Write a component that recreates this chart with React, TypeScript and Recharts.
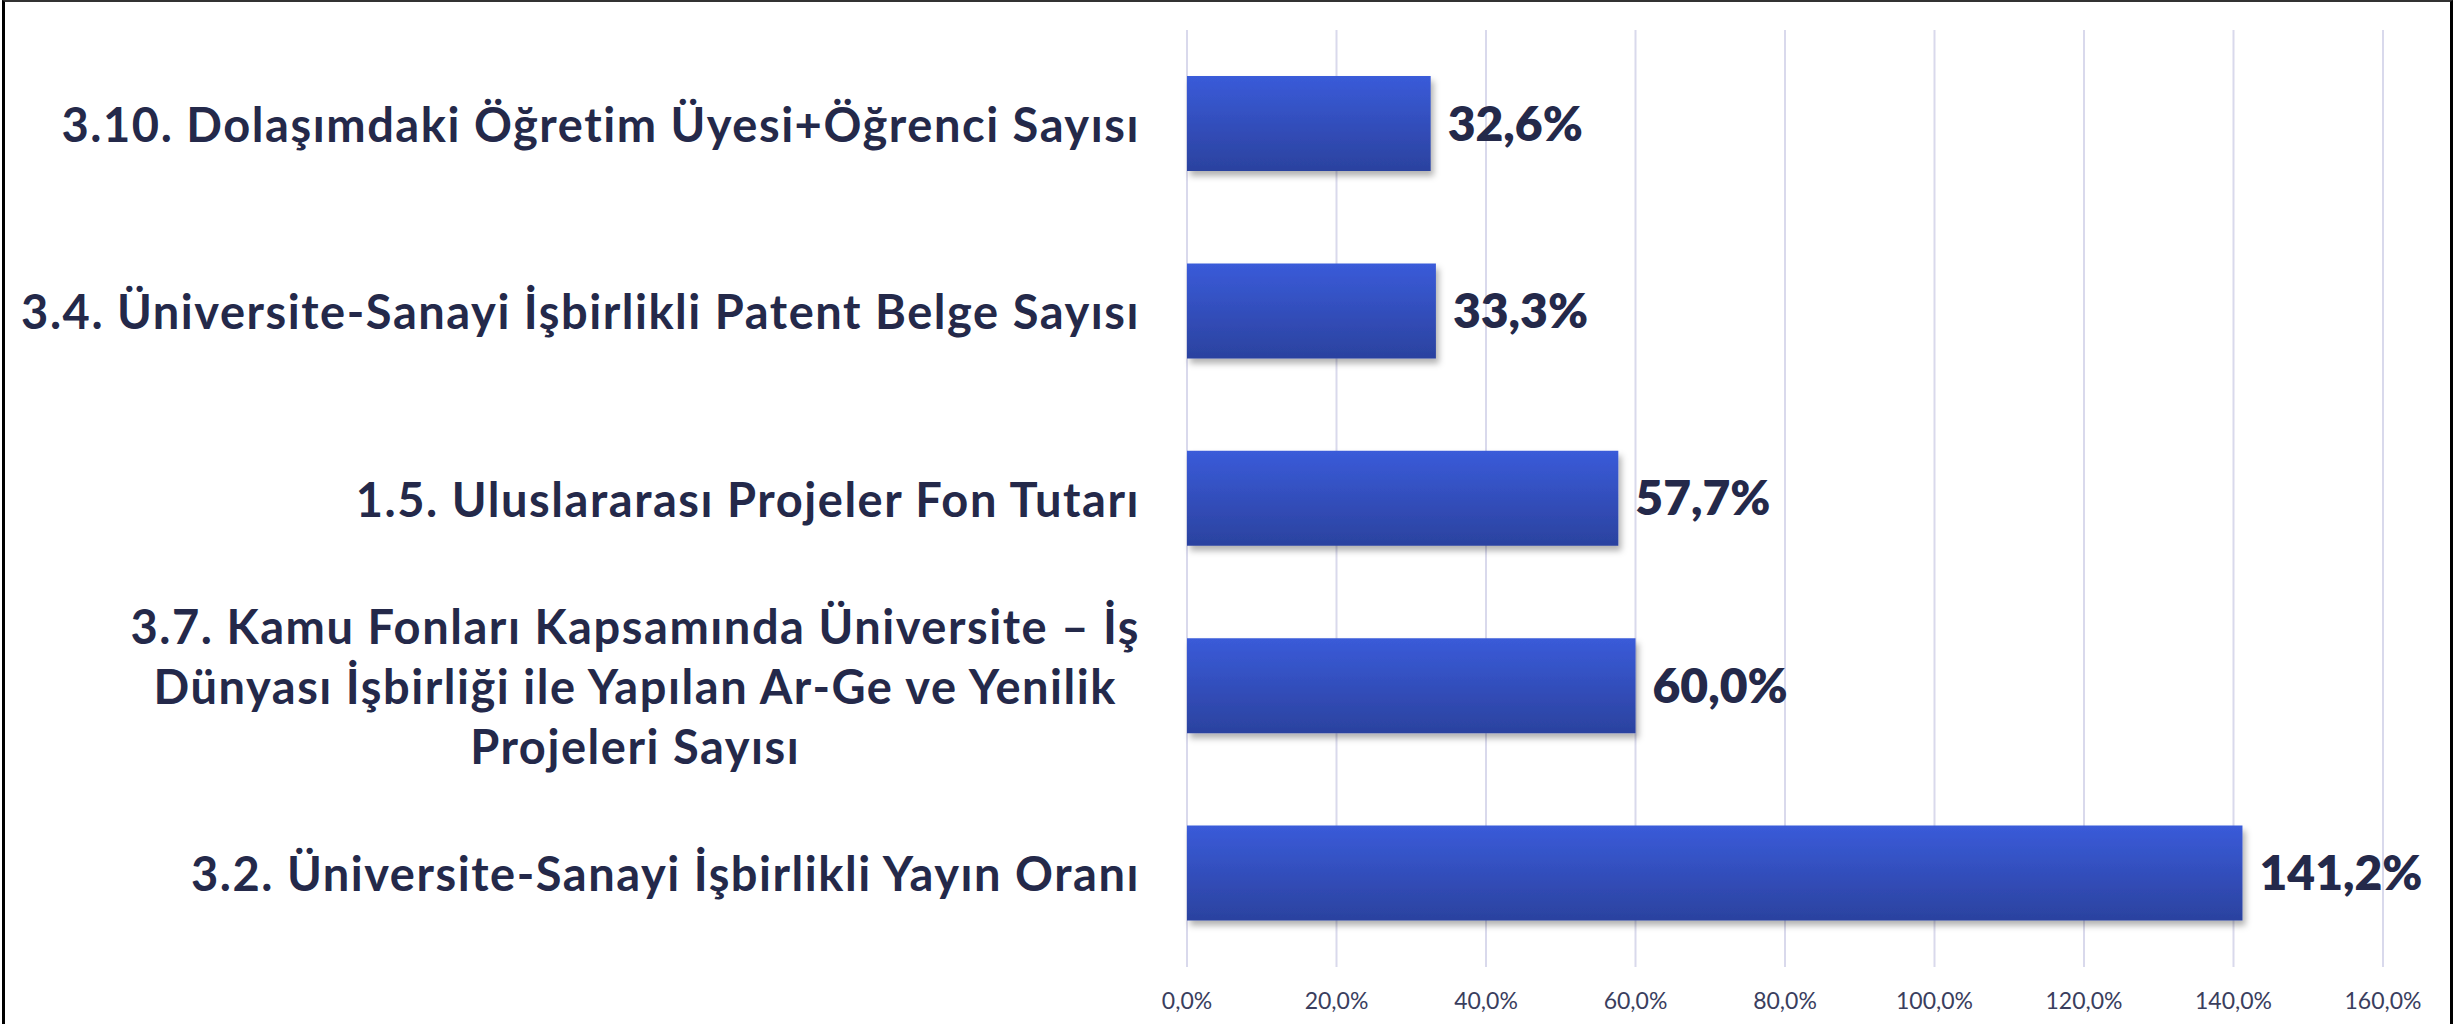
import { BarChart, Bar, XAxis, YAxis, CartesianGrid, LabelList } from "recharts";

const categories = [
    "3.10. Dolaşımdaki Öğretim Üyesi+Öğrenci Sayısı",
    "3.4. Üniversite-Sanayi İşbirlikli Patent Belge Sayısı",
    "1.5. Uluslararası Projeler Fon Tutarı",
    "3.7. Kamu Fonları Kapsamında Üniversite – İş\nDünyası İşbirliği ile Yapılan Ar-Ge ve Yenilik\nProjeleri Sayısı",
    "3.2. Üniversite-Sanayi İşbirlikli Yayın Oranı",
];
const values = [32.6, 33.3, 57.7, 60.0, 141.2];
const xTicks = [0, 20, 40, 60, 80, 100, 120, 140, 160];

const data = categories.map((name, i) => ({ name, value: values[i] }));

const LABEL_FONT = "Lato, 'Noto Sans', sans-serif";
const TEXT_COLOR = "#24294a";
const SPACING = 1.55;

const fmt = (v: number) => v.toFixed(1).replace(".", ",") + "%";

let ctx: CanvasRenderingContext2D | null = null;
const measure = (text: string, font: string) => {
    if (!ctx) ctx = document.createElement("canvas").getContext("2d");
    if (!ctx) return text.length * 24;
    ctx.font = font;
    return ctx.measureText(text).width + text.length * SPACING;
};

const CategoryTick = (props: any) => {
    const { x, y, payload } = props;
    const lines: string[] = String(payload.value).split("\n");
    const right = x;
    if (lines.length === 1) {
        return (
            <text x={right} y={y} textAnchor="end" dominantBaseline="central" letterSpacing={SPACING}
                fontFamily={LABEL_FONT} fontWeight={700} fontSize={47} fill={TEXT_COLOR}>
                {lines[0]}
            </text>
        );
    }
    const widest = Math.max(...lines.map((l) => measure(l, `700 47px ${LABEL_FONT}`)));
    const cx = right - widest / 2;
    const lh = 60;
    const top = y - ((lines.length - 1) * lh) / 2;
    return (
        <text textAnchor="middle" dominantBaseline="central" letterSpacing={SPACING}
            fontFamily={LABEL_FONT} fontWeight={700} fontSize={47} fill={TEXT_COLOR}>
            {lines.map((l, i) => (
                <tspan key={i} x={cx} y={top + i * lh}>{l}</tspan>
            ))}
        </text>
    );
};

const ValueTick = (props: any) => {
    const { x, y, payload } = props;
    return (
        <text x={x} y={y + 25} textAnchor="middle" dominantBaseline="central"
            fontFamily={LABEL_FONT} fontSize={23} fill="#3a3e5e">
            {fmt(payload.value)}
        </text>
    );
};

const App = () => {
    return (
        <div style={{ position: "absolute", left: 0, top: 0, width: 2458, height: 1024, background: "#fff", overflow: "hidden" }}>
            <div style={{
                position: "absolute", left: 2, top: 0, width: 2451, height: 1040,
                boxSizing: "border-box", borderLeft: "3px solid #000",
                borderTop: "2px solid #333", borderRight: "3px solid #000",
            }} />
            <BarChart
                width={2458}
                height={1024}
                data={data}
                layout="vertical"
                barSize={95}
                margin={{ top: 30, right: 75, left: 0, bottom: 17 }}
                style={{ position: "absolute", left: 0, top: 0 }}
            >
                <defs>
                    <linearGradient id="barFill" x1="0" y1="0" x2="0" y2="1">
                        <stop offset="0%" stopColor="#3a5bd9" />
                        <stop offset="100%" stopColor="#2b429f" />
                    </linearGradient>
                    <filter id="barShadow" x="-5%" y="-20%" width="115%" height="150%">
                        <feDropShadow dx="3" dy="5" stdDeviation="3" floodColor="#000" floodOpacity="0.3" />
                    </filter>
                </defs>
                <CartesianGrid horizontal={false} stroke="#d9d9ec" strokeWidth={2} />
                <XAxis
                    type="number"
                    domain={[0, 160]}
                    ticks={xTicks}
                    height={40}
                    axisLine={false}
                    tickLine={false}
                    tick={<ValueTick />}
                    interval={0}
                />
                <YAxis
                    type="category"
                    dataKey="name"
                    width={1187}
                    axisLine={false}
                    tickLine={false}
                    tickSize={0}
                    tickMargin={47}
                    tick={<CategoryTick />}
                    interval={0}
                />
                <Bar dataKey="value" fill="url(#barFill)" filter="url(#barShadow)" isAnimationActive={false}>
                    <LabelList
                        dataKey="value"
                        position="right"
                        offset={17}
                        formatter={(v: any) => fmt(Number(v))}
                        fontFamily={LABEL_FONT}
                        fontWeight={800}
                        fontSize={48}
                        fill={TEXT_COLOR}
                    />
                </Bar>
            </BarChart>
        </div>
    );
};

export default App;
